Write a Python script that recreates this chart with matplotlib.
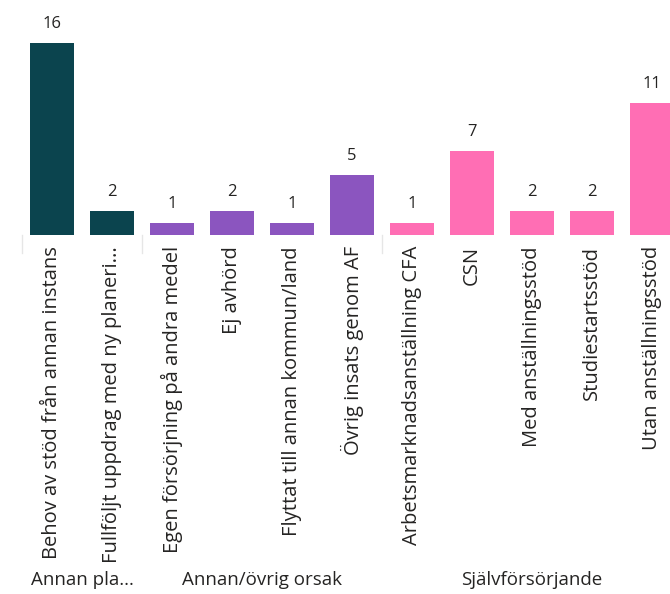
import matplotlib.pyplot as plt
from matplotlib.lines import Line2D

plt.rcParams['font.family'] = ['Open Sans', 'DejaVu Sans']

# data
labels = ["Behov av stöd från annan instans", "Fullföljt uppdrag med ny planeri...",
          "Egen försörjning på andra medel", "Ej avhörd", "Flyttat till annan kommun/land",
          "Övrig insats genom AF", "Arbetsmarknadsanställning CFA", "CSN",
          "Med anställningsstöd", "Studiestartsstöd", "Utan anställningsstöd"]
values = [16, 2, 1, 2, 1, 5, 1, 7, 2, 2, 11]
groups = ["Annan pla...", "Annan/övrig orsak", "Självförsörjande"]
group_sizes = [2, 4, 5]
group_colors = ["#0B444E", "#8B55BF", "#FF6EB4"]

colors = []
for c, n in zip(group_colors, group_sizes):
    colors += [c] * n

W, H = 670, 594
fig = plt.figure(figsize=(W / 100, H / 100), dpi=100)
base_y = 235
ax = fig.add_axes([22 / W, (H - base_y) / H, 660 / W, base_y / H])

x = list(range(len(values)))
bars = ax.bar(x, values, width=44 / 60, color=colors)
ax.set_xlim(-0.5, len(values) - 0.5)
ax.set_ylim(0, base_y / 12)
ax.axis('off')

for b, v in zip(bars, values):
    ax.annotate(str(v), (b.get_x() + b.get_width() / 2, v), xytext=(0, 8),
                textcoords='offset points', ha='center', va='bottom',
                fontsize=12, color='#252423')

# category labels
for i, lab in enumerate(labels):
    ax.annotate(lab, (i, 0), xytext=(0, -8), textcoords='offset points',
                rotation=90, ha='center', va='top', fontsize=14.5, color='#252423')

# group separators and labels
start = 0
sep_h = -(H - base_y) / base_y
for g, n in zip(groups, group_sizes):
    ax.add_line(Line2D([start - 0.5, start - 0.5], [0, sep_h], color='#E6E6E6',
                       lw=1, clip_on=False))
    mid = start + (n - 1) / 2
    ax.annotate(g, (mid, 0), xytext=(0, -(580 - base_y) * 0.72),
                textcoords='offset points', ha='center', va='center',
                fontsize=13.5, color='#252423')
    start += n

fig.savefig("out.png", dpi=100)
